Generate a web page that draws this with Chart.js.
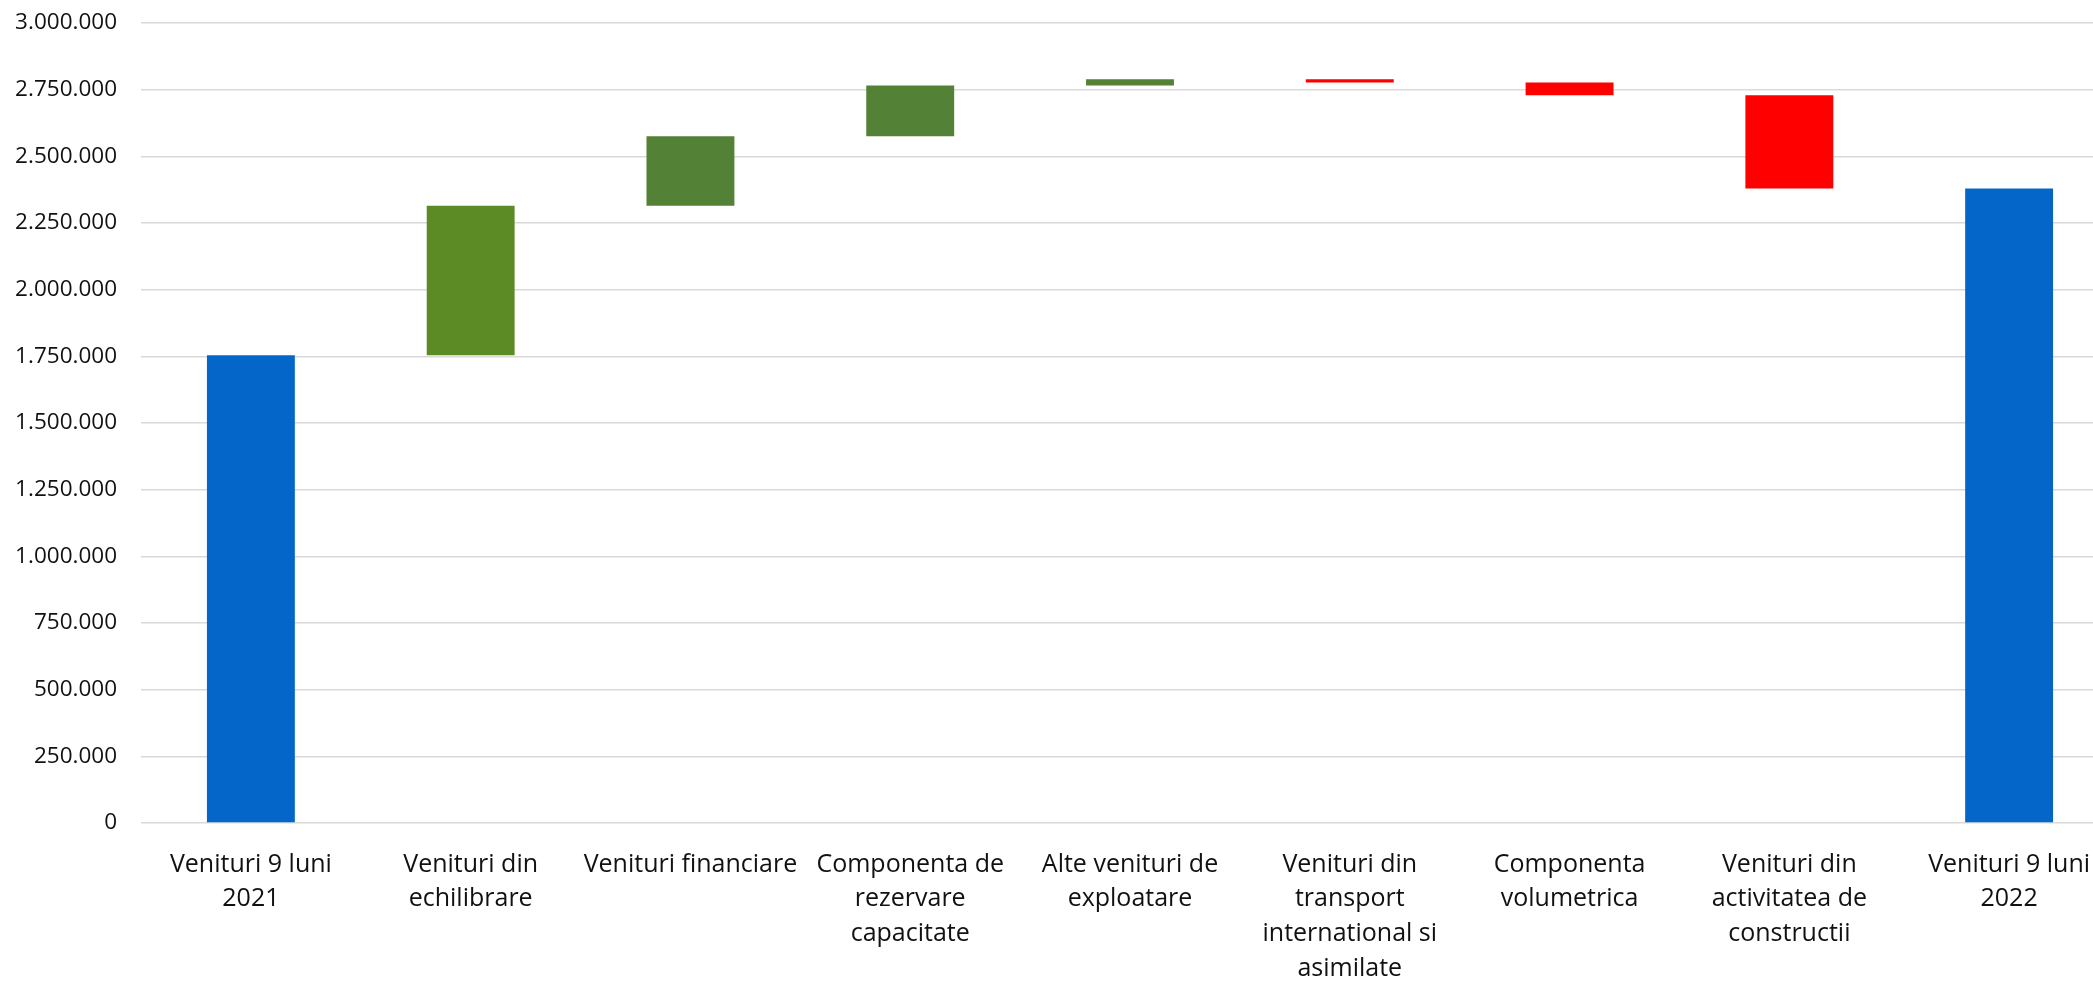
<!DOCTYPE html>
<html>
<head>
<meta charset="utf-8">
<script src="https://cdn.jsdelivr.net/npm/chart.js@4/dist/chart.umd.min.js"></script>
<style>
  html, body { margin: 0; padding: 0; background: #fff; overflow: hidden; }
  #wrap { width: 2125px; height: 981px; }
</style>
</head>
<body>
<div id="wrap"><canvas id="myChart" width="2125" height="981"></canvas></div>
<script>
// Waterfall: venituri 9 luni 2021 -> 9 luni 2022
const categories = [
  ["Venituri 9 luni", "2021"],
  ["Venituri din", "echilibrare"],
  ["Venituri financiare"],
  ["Componenta de", "rezervare", "capacitate"],
  ["Alte venituri de", "exploatare"],
  ["Venituri din", "transport", "international si", "asimilate"],
  ["Componenta", "volumetrica"],
  ["Venituri din", "activitatea de", "constructii"],
  ["Venituri 9 luni", "2022"],
];
// first and last are totals, the rest are changes
const changes = [1754000, 561000, 260000, 191000, 23000, -12000, -48000, -350000, 2379000];
const kinds = ["total", "up", "up", "up", "up", "down", "down", "down", "total"];
const yTicks = [0, 250000, 500000, 750000, 1000000, 1250000, 1500000, 1750000, 2000000, 2250000, 2500000, 2750000, 3000000];

// build floating bars
let running = 0;
const floating = changes.map((v, i) => {
  if (kinds[i] === "total") { running = v; return [0, v]; }
  const from = running;
  running += v;
  return [from, running];
});

const colors = kinds.map((k, i) => {
  if (k === "total") return "#0466c8";
  if (k === "down") return "#ff0000";
  return i === 1 ? "#5c8b26" : "#538135";
});

const fmt = v => String(v).replace(/\B(?=(\d{3})+(?!\d))/g, ".");

const ctx = document.getElementById("myChart");

new Chart(ctx, {
  type: "bar",
  data: {
    labels: categories,
    datasets: [{
      data: floating,
      backgroundColor: colors,
      borderWidth: 0,
      categoryPercentage: 1,
      barPercentage: 0.4,
    }],
  },
  options: {
    responsive: false,
    animation: false,
    layout: { padding: { top: 23, right: 6, left: 0, bottom: 0 } },
    plugins: {
      legend: { display: false },
      tooltip: { enabled: false },
    },
    scales: {
      x: {
        grid: { display: false, drawTicks: false },
        border: { display: false },
        ticks: {
          color: "#111",
          font: { family: "'Open Sans', 'Noto Sans', sans-serif", size: 25, lineHeight: 1.39 },
          padding: 24,
          maxRotation: 0,
          autoSkip: false,
        },
        afterFit: s => { s.height = 158; },
      },
      y: {
        min: 0,
        max: 3000000,
        afterBuildTicks: s => { s.ticks = yTicks.map(v => ({ value: v })); },
        grid: { color: "#d9d9d9", lineWidth: 1.6, drawTicks: false },
        border: { display: false },
        ticks: {
          color: "#111",
          font: { family: "'Open Sans', 'Noto Sans', sans-serif", size: 22.5 },
          padding: 24,
          callback: v => fmt(v),
        },
        afterFit: s => { s.width = 141; s.paddingTop = 0; s.paddingBottom = 0; },
      },
    },
  },
});
</script>
</body>
</html>
